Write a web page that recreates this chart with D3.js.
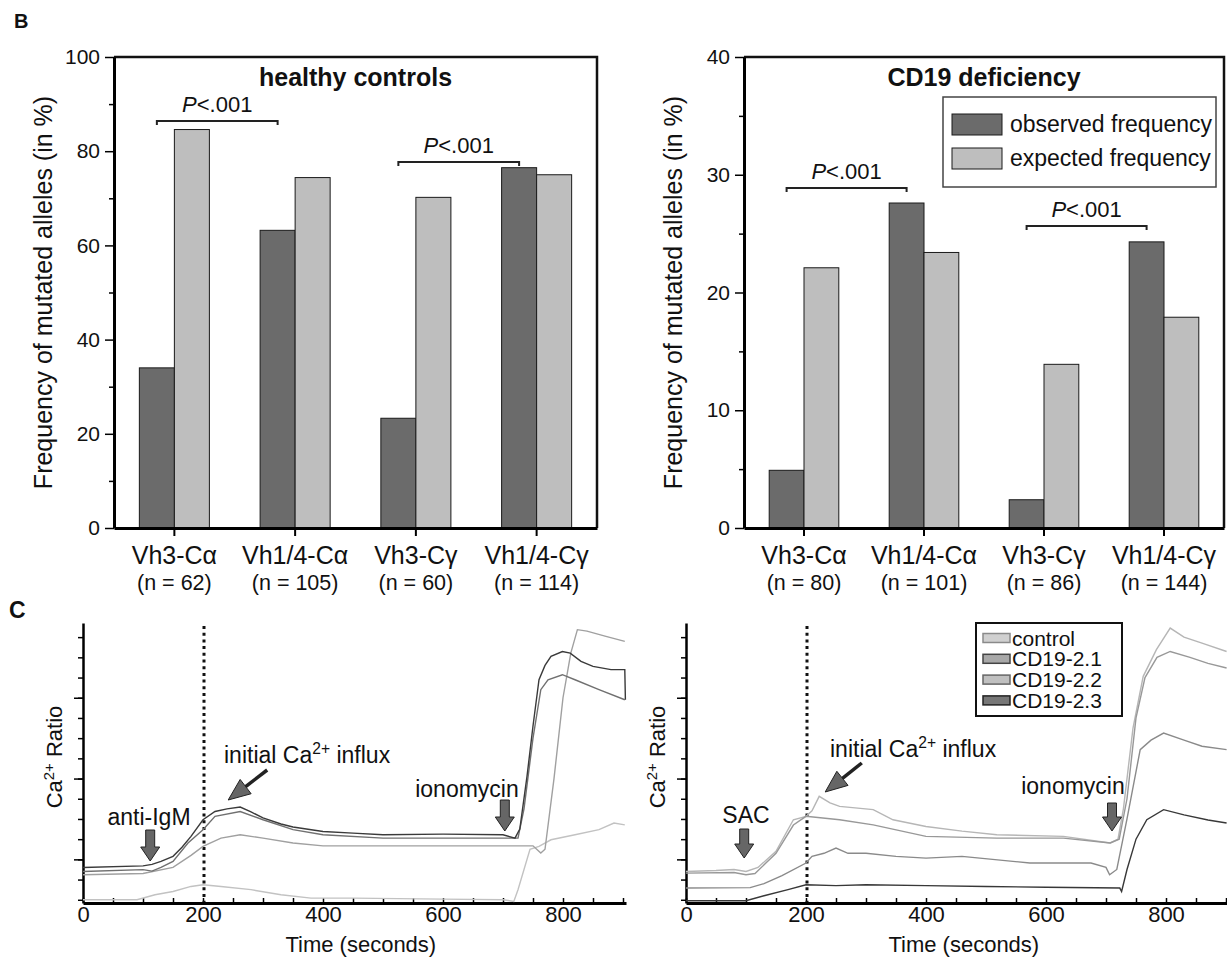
<!DOCTYPE html>
<html>
<head>
<meta charset="utf-8">
<title>Mutated alleles and Ca2+ influx</title>
<style>
  body { margin: 0; background: #fff; }
  svg text { font-family: "Liberation Sans", Arial, Helvetica, sans-serif; fill: #111; }
</style>
</head>
<body>
<script src="https://cdnjs.cloudflare.com/ajax/libs/d3/7.8.5/d3.min.js"></script>
<script>
// ---------- panel B data ----------
const categories = ["Vh3-Cα", "Vh1/4-Cα", "Vh3-Cγ", "Vh1/4-Cγ"];
const seriesNames = ["observed frequency", "expected frequency"];
const healthyN = [62, 105, 60, 114];
const healthyObserved = [34.0, 63.2, 23.3, 76.5];
const healthyExpected = [84.6, 74.4, 70.2, 75.0];
const healthyTicks = [0, 20, 40, 60, 80, 100];
const cd19N = [80, 101, 86, 144];
const cd19Observed = [4.9, 27.6, 2.4, 24.3];
const cd19Expected = [22.1, 23.4, 13.9, 17.9];
const cd19Ticks = [0, 10, 20, 30, 40];
const pairs = [[0, 1], [2, 3]]; // P<.001 brackets

// ---------- panel C data : [seconds, ratio units] ----------
const timeTicks = [0, 200, 400, 600, 800];
const igmDark = [[0,1.6],[100,1.68],[115,1.75],[130,1.9],[150,2.15],[165,2.6],[180,3.14],[200,3.96],[220,4.37],[240,4.5],[262,4.59],[280,4.35],[300,4.05],[330,3.75],[350,3.6],[400,3.38],[450,3.3],[500,3.22],[600,3.25],[700,3.22],[720,3.05],[728,3.5],[740,6.11],[750,8.6],[760,10.89],[770,11.6],[780,12.05],[799,12.29],[812,12.21],[830,11.8],[850,11.55],[880,11.39],[903,11.39],[904,9.9]];
const igmMid = [[0,1.4],[100,1.49],[115,1.42],[130,1.6],[150,1.9],[175,2.81],[200,3.47],[220,4.13],[262,4.37],[300,3.96],[350,3.47],[400,3.22],[500,3.05],[600,3.05],[700,3.05],[725,3.05],[735,4.5],[750,8.0],[763,10.4],[775,10.89],[799,11.14],[820,10.89],[860,10.4],[903,9.9]];
const igmLight = [[0,1.24],[100,1.3],[150,1.6],[180,2.2],[200,2.64],[230,3.05],[262,3.22],[300,3.05],[350,2.81],[400,2.67],[500,2.67],[600,2.67],[700,2.67],[750,2.67],[763,2.31],[770,2.5],[785,6.0],[800,10.0],[813,12.21],[824,13.37],[840,13.3],[870,13.05],[903,12.79]];
const igmFaint = [[0,0],[90,0],[120,0.25],[150,0.41],[180,0.66],[200,0.74],[230,0.66],[280,0.5],[330,0.25],[380,0.08],[450,0.08],[600,0.03],[700,0],[718,-0.08],[725,0.5],[745,2.5],[760,2.64],[780,2.97],[820,3.22],[860,3.47],[885,3.8],[903,3.71]];

const sacControl = [[0,1.4],[50,1.45],[80,1.5],[100,1.4],[120,1.6],[150,2.4],[179,3.96],[200,4.13],[210,4.4],[222,5.12],[240,4.8],[256,4.62],[312,4.46],[345,3.96],[400,3.63],[460,3.4],[518,3.22],[629,3.14],[707,2.81],[720,3.0],[729,4.5],[745,8.5],[762,11.06],[784,12.38],[807,13.45],[830,13.0],[860,12.7],[901,12.29]];
const sacCd21 = [[0,1.32],[80,1.35],[100,1.24],[115,1.3],[150,2.3],[179,3.7],[200,4.13],[256,3.96],[312,3.71],[400,3.14],[518,3.05],[629,3.05],[707,2.81],[722,3.0],[735,5.0],[750,9.0],[765,11.0],[785,12.0],[807,12.29],[840,12.0],[870,11.7],[901,11.47]];
const sacCd22 = [[0,0.58],[107,0.6],[130,0.8],[160,1.2],[200,1.82],[210,2.15],[230,2.3],[250,2.56],[270,2.3],[300,2.3],[350,2.15],[400,2.06],[460,2.15],[573,1.82],[675,1.82],[700,1.6],[706,1.24],[718,1.5],[735,4.0],[757,7.43],[775,7.9],[796,8.25],[830,7.9],[860,7.6],[901,7.43]];
const sacCd23 = [[0,-0.05],[100,-0.05],[130,0.2],[170,0.5],[200,0.74],[250,0.7],[300,0.74],[400,0.7],[500,0.66],[600,0.62],[723,0.58],[726,0.41],[735,1.5],[750,3.0],[768,3.96],[796,4.46],[830,4.2],[870,3.95],[901,3.8]];
const sacLegend = ["control", "CD19-2.1", "CD19-2.2", "CD19-2.3"];

// ---------- setup ----------
const W = 1227, H = 957;
const svg = d3.select("body").append("svg").attr("width", W).attr("height", H);
const barTop = 57, barBottom = 528;
const barFill = { "observed frequency": "#6b6b6b", "expected frequency": "#bebebe" };

svg.append("text").attr("x", 14).attr("y", 28).attr("font-size", 20).attr("font-weight", "bold").text("B");
svg.append("text").attr("x", 9).attr("y", 618).attr("font-size", 23).attr("font-weight", "bold").text("C");

function drawBars(cfg) {
  const x = d3.scaleBand().domain(categories).range([cfg.left, cfg.right]).paddingInner(0.42).paddingOuter(0.21);
  const xs = d3.scaleBand().domain(seriesNames).range([0, x.bandwidth()]);
  const y = d3.scaleLinear().domain([0, cfg.max]).range([barBottom, barTop]);
  const g = svg.append("g");

  const rows = categories.map((c, i) => ({ cat: c, vals: [cfg.observed[i], cfg.expected[i]] }));
  g.selectAll("g.cat").data(rows).join("g").attr("class", "cat")
    .attr("transform", d => `translate(${x(d.cat)},0)`)
    .selectAll("rect").data(d => d.vals.map((v, j) => ({ v: v, s: seriesNames[j] }))).join("rect")
    .attr("x", d => xs(d.s)).attr("y", d => y(d.v))
    .attr("width", xs.bandwidth()).attr("height", d => y(0) - y(d.v))
    .attr("fill", d => barFill[d.s]).attr("stroke", "#1a1a1a").attr("stroke-width", 1);

  // frame top + right
  g.append("path").attr("d", `M${cfg.left},${barTop}H${cfg.right}V${barBottom}`)
    .attr("fill", "none").attr("stroke", "#111").attr("stroke-width", 2.5);

  // y axis, minor ticks halfway between labelled ones
  const minor = cfg.ticks.slice(0, -1).map((t, i) => (t + cfg.ticks[i + 1]) / 2);
  g.append("g").attr("transform", `translate(${cfg.left},0)`)
    .call(d3.axisLeft(y).tickValues(minor).tickSize(5).tickFormat(""))
    .call(a => a.select(".domain").remove())
    .selectAll("line").attr("stroke-width", 1.5);
  const ya = g.append("g").attr("transform", `translate(${cfg.left},0)`)
    .call(d3.axisLeft(y).tickValues(cfg.ticks).tickSize(9).tickPadding(5).tickSizeOuter(0));
  ya.attr("font-size", 21).attr("font-family", null);
  ya.select(".domain").attr("stroke-width", 3);
  ya.selectAll("line").attr("stroke-width", 1.5);

  // x axis
  const xa = g.append("g").attr("transform", `translate(0,${barBottom})`)
    .call(d3.axisBottom(x).tickSize(8).tickSizeOuter(0).tickFormat(""));
  xa.select(".domain").attr("stroke-width", 3);
  xa.selectAll("line").attr("stroke-width", 2);

  g.selectAll("text.catname").data(categories).join("text").attr("class", "catname")
    .attr("x", c => x(c) + x.bandwidth() / 2).attr("y", 564)
    .attr("text-anchor", "middle").attr("font-size", 25).text(c => c);
  g.selectAll("text.ncount").data(cfg.n).join("text").attr("class", "ncount")
    .attr("x", (d, i) => x(categories[i]) + x.bandwidth() / 2).attr("y", 590)
    .attr("text-anchor", "middle").attr("font-size", 21.5).text(d => `(n = ${d})`);

  // y title
  g.append("text").attr("transform", `translate(${cfg.left - 62},${(barTop + barBottom) / 2}) rotate(-90)`)
    .attr("text-anchor", "middle").attr("font-size", 25)
    .text("Frequency of mutated alleles (in %)");

  // panel title
  g.append("text").attr("x", (cfg.left + cfg.right) / 2).attr("y", 86)
    .attr("text-anchor", "middle").attr("font-size", 25).attr("font-weight", "bold").text(cfg.title);

  // significance brackets
  pairs.forEach((p, k) => {
    const xa1 = x(categories[p[0]]) + xs.bandwidth() / 2;
    const xb1 = x(categories[p[1]]) + xs.bandwidth() / 2;
    const yb = cfg.bracketY[k];
    g.append("path").attr("d", `M${xa1},${yb + 4}V${yb}H${xb1}V${yb + 4}`)
      .attr("fill", "none").attr("stroke", "#222").attr("stroke-width", 2);
    const t = g.append("text").attr("x", (xa1 + xb1) / 2).attr("y", yb - 9)
      .attr("text-anchor", "middle").attr("font-size", 22);
    t.append("tspan").attr("font-style", "italic").text("P");
    t.append("tspan").text("<.001");
  });
  return { x, y, g };
}

drawBars({ left: 114, right: 597, max: 100, ticks: healthyTicks, n: healthyN,
  observed: healthyObserved, expected: healthyExpected, title: "healthy controls", bracketY: [121, 162] });
const right = drawBars({ left: 744, right: 1224, max: 40, ticks: cd19Ticks, n: cd19N,
  observed: cd19Observed, expected: cd19Expected, title: "CD19 deficiency", bracketY: [188, 226] });

// legend for panel B
const lg = right.g.append("g");
lg.append("rect").attr("x", 943).attr("y", 97).attr("width", 273).attr("height", 90)
  .attr("fill", "#fff").attr("stroke", "#444").attr("stroke-width", 1.5);
seriesNames.forEach((s, i) => {
  lg.append("rect").attr("x", 952).attr("y", 114 + i * 34).attr("width", 50).attr("height", 21)
    .attr("fill", barFill[s]).attr("stroke", "#1a1a1a").attr("stroke-width", 1);
  lg.append("text").attr("x", 1010).attr("y", 132 + i * 34).attr("font-size", 23).text(s);
});

// ---------- panel C ----------
function downArrow(g, cx, top, tip) {
  const sh = 4.5, hh = 9.5, base = tip - 14;
  g.append("path")
    .attr("d", `M${cx - sh},${top}H${cx + sh}V${base}H${cx + hh}L${cx},${tip}L${cx - hh},${base}H${cx - sh}Z`)
    .attr("fill", "#666").attr("stroke", "#222").attr("stroke-width", 1);
}
function slantArrow(g, x1, y1, x2, y2) {
  const a = Math.atan2(y2 - y1, x2 - x1), len = 22, hw = 9;
  const bx = x2 - len * Math.cos(a), by = y2 - len * Math.sin(a);
  g.append("line").attr("x1", x1).attr("y1", y1).attr("x2", bx).attr("y2", by)
    .attr("stroke", "#222").attr("stroke-width", 3.5);
  g.append("path")
    .attr("d", `M${x2},${y2}L${bx + hw * Math.sin(a)},${by - hw * Math.cos(a)}L${bx - hw * Math.sin(a)},${by + hw * Math.cos(a)}Z`)
    .attr("fill", "#666").attr("stroke", "#222").attr("stroke-width", 1);
}
function caText(g, x, y, size, pre, post, anchor) {
  const t = g.append("text").attr("x", x).attr("y", y).attr("font-size", size).attr("text-anchor", anchor || "start");
  t.append("tspan").text(pre);
  t.append("tspan").attr("font-size", size * 0.68).attr("dy", -size * 0.38).text("2+");
  t.append("tspan").attr("dy", size * 0.38).text(post);
  return t;
}

function drawTraces(cfg) {
  const x = d3.scaleLinear().domain([0, 905]).range([cfg.left, cfg.left + 905 * 0.6]);
  const y = d3.scaleLinear().domain([-0.16, 13.7]).range([903, 623]);
  const g = svg.append("g");

  // y axis (no labels)
  g.append("g").attr("transform", `translate(${cfg.left},0)`)
    .call(d3.axisLeft(y).tickValues(d3.range(0, 14)).tickSize(5).tickFormat("").tickSizeOuter(0))
    .call(a => a.select(".domain").attr("stroke-width", 2.5))
    .selectAll("line").attr("stroke-width", 1.5);
  g.append("g").attr("transform", `translate(${cfg.left},0)`)
    .call(d3.axisLeft(y).tickValues([2, 6, 10]).tickSize(9).tickFormat(""))
    .call(a => a.select(".domain").remove())
    .selectAll("line").attr("stroke-width", 1.5);

  // x axis: inward minor ticks every 50 s
  g.append("g").attr("transform", `translate(0,903)`)
    .call(d3.axisBottom(x).tickValues(d3.range(0, 901, 50)).tickSize(-5).tickFormat("").tickSizeOuter(0))
    .call(a => a.select(".domain").attr("stroke-width", 3))
    .selectAll("line").attr("stroke-width", 1.5);
  const xl = g.append("g").attr("transform", `translate(0,903)`)
    .call(d3.axisBottom(x).tickValues(timeTicks).tickSize(0).tickPadding(3));
  xl.select(".domain").remove();
  xl.attr("font-size", 22).attr("font-family", null);

  g.append("text").attr("x", x(463)).attr("y", 952).attr("text-anchor", "middle")
    .attr("font-size", 22).text("Time (seconds)");
  const yl = g.append("g").attr("transform", `translate(${cfg.left - 21},757) rotate(-90)`);
  caText(yl, 0, 0, 22, "Ca", " Ratio", "middle");

  // dotted marker at 200 s
  g.append("line").attr("x1", x(200) + 1).attr("x2", x(200) + 1).attr("y1", 626).attr("y2", 902)
    .attr("stroke", "#111").attr("stroke-width", 3).attr("stroke-dasharray", "3,3.7");

  const line = d3.line().x(d => x(d[0])).y(d => y(d[1]));
  cfg.series.forEach(s => {
    g.append("path").datum(s.data).attr("d", line)
      .attr("fill", "none").attr("stroke", s.color).attr("stroke-width", 1.4);
  });

  // annotations
  const a = cfg.notes;
  g.append("text").attr("x", x(a.stim[0])).attr("y", a.stim[1]).attr("text-anchor", "middle")
    .attr("font-size", 23).text(a.stimLabel);
  downArrow(g, x(a.stimArrow[0]), a.stimArrow[1], a.stimArrow[2]);
  caText(g, x(a.influx[0]), a.influx[1], 23, "initial Ca", " influx");
  slantArrow(g, x(a.slant[0]), a.slant[1], x(a.slant[2]), a.slant[3]);
  g.append("text").attr("x", x(a.iono[0])).attr("y", a.iono[1]).attr("text-anchor", "middle")
    .attr("font-size", 23).text("ionomycin");
  downArrow(g, x(a.ionoArrow[0]), a.ionoArrow[1], a.ionoArrow[2]);
  return { x, y, g };
}

drawTraces({
  left: 83,
  series: [
    { data: igmFaint, color: "#c2c2c2" },
    { data: igmLight, color: "#a0a0a0" },
    { data: igmMid, color: "#707070" },
    { data: igmDark, color: "#3a3a3a" }
  ],
  notes: { stimLabel: "anti-IgM", stim: [110, 825], stimArrow: [112, 830, 861],
    influx: [235, 763], slant: [307, 770, 242, 800],
    iono: [640, 797], ionoArrow: [703, 800, 831] }
});

const sacColors = ["#b6b6b6", "#989898", "#8a8a8a", "#383838"];
const rc = drawTraces({
  left: 686,
  series: [
    { data: sacControl, color: sacColors[0] },
    { data: sacCd21, color: sacColors[1] },
    { data: sacCd22, color: sacColors[2] },
    { data: sacCd23, color: sacColors[3] }
  ],
  notes: { stimLabel: "SAC", stim: [100, 823], stimArrow: [97, 829, 858],
    influx: [240, 757], slant: [293, 763, 232, 792],
    iono: [645, 794], ionoArrow: [710, 803, 831] }
});

// legend for panel C (right)
const swFill = ["#d0d0d0", "#a8a8a8", "#c0c0c0", "#777"];
const swLine = ["#8a8a8a", "#444", "#666", "#222"];
const cl = rc.g.append("g");
cl.append("rect").attr("x", 976).attr("y", 623).attr("width", 146).attr("height", 93)
  .attr("fill", "#fff").attr("stroke", "#111").attr("stroke-width", 2);
sacLegend.forEach((s, i) => {
  const cy = 638 + i * 20.8;
  cl.append("rect").attr("x", 983).attr("y", cy - 4.5).attr("width", 27).attr("height", 9)
    .attr("fill", swFill[i]).attr("stroke", swLine[i]).attr("stroke-width", 1.5);
  cl.append("text").attr("x", 1012).attr("y", cy + 7.5).attr("font-size", 21).text(s);
});
</script>
</body>
</html>
